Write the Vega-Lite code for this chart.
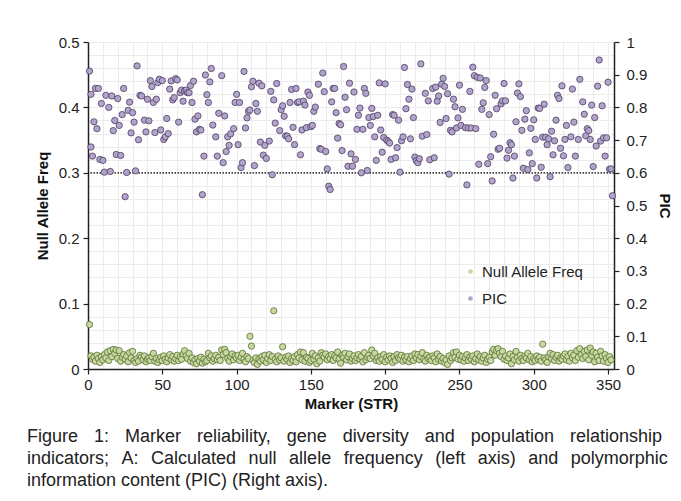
{
"$schema": "https://vega.github.io/schema/vega-lite/v6.json",
"width": 526,
"height": 327,
"autosize": {"type": "none"},
"padding": {"left": 88, "top": 42, "right": 67, "bottom": 132},
"background": "white",
"config": {"view": {"stroke": null}, "font": "Liberation Sans"},
"title": {
  "text": ["Figure \u00a0\u20041: \u00a0\u2004Marker \u00a0\u2004reliability, \u00a0\u2004gene \u00a0\u2004diversity \u00a0\u2004and \u00a0\u2004population \u00a0\u2004relationship", "indicators; \u2005\u2006A: \u2005\u2006Calculated \u2005\u2006null \u2005\u2006allele \u2005\u2006frequency \u2005\u2006(left \u2005\u2006axis) \u2005\u2006and \u2005\u2006polymorphic", "information content (PIC) (Right axis)."],
  "orient": "bottom", "anchor": "start", "frame": "group", "dx": -61, "offset": 17,
  "fontSize": 18, "fontWeight": "normal", "color": "#222222", "lineHeight": 22, "font": "Liberation Sans"
},
"datasets": {
"naf": [
{"m":1,"v":0.068},{"m":2,"v":0.020},{"m":3,"v":0.015},{"m":4,"v":0.018},{"m":5,"v":0.012},{"m":6,"v":0.021},{"m":7,"v":0.016},{"m":8,"v":0.010},{"m":9,"v":0.019},{"m":10,"v":0.014},
{"m":11,"v":0.022},{"m":12,"v":0.017},{"m":13,"v":0.026},{"m":14,"v":0.013},{"m":15,"v":0.028},{"m":16,"v":0.019},{"m":17,"v":0.030},{"m":18,"v":0.024},{"m":19,"v":0.029},{"m":20,"v":0.016},
{"m":21,"v":0.028},{"m":22,"v":0.012},{"m":23,"v":0.018},{"m":24,"v":0.022},{"m":25,"v":0.015},{"m":26,"v":0.020},{"m":27,"v":0.011},{"m":28,"v":0.025},{"m":29,"v":0.017},{"m":30,"v":0.027},
{"m":31,"v":0.013},{"m":32,"v":0.010},{"m":33,"v":0.016},{"m":34,"v":0.012},{"m":35,"v":0.021},{"m":36,"v":0.018},{"m":37,"v":0.014},{"m":38,"v":0.020},{"m":39,"v":0.011},{"m":40,"v":0.015},
{"m":41,"v":0.017},{"m":42,"v":0.013},{"m":43,"v":0.019},{"m":44,"v":0.024},{"m":45,"v":0.012},{"m":46,"v":0.016},{"m":47,"v":0.010},{"m":48,"v":0.014},{"m":49,"v":0.018},{"m":50,"v":0.013},
{"m":51,"v":0.020},{"m":52,"v":0.015},{"m":53,"v":0.011},{"m":54,"v":0.017},{"m":55,"v":0.022},{"m":56,"v":0.014},{"m":57,"v":0.019},{"m":58,"v":0.012},{"m":59,"v":0.016},{"m":60,"v":0.021},
{"m":61,"v":0.013},{"m":62,"v":0.018},{"m":63,"v":0.015},{"m":64,"v":0.023},{"m":65,"v":0.028},{"m":66,"v":0.020},{"m":67,"v":0.016},{"m":68,"v":0.024},{"m":69,"v":0.012},{"m":70,"v":0.017},
{"m":71,"v":0.010},{"m":72,"v":0.014},{"m":73,"v":0.008},{"m":74,"v":0.016},{"m":75,"v":0.012},{"m":76,"v":0.018},{"m":77,"v":0.009},{"m":78,"v":0.015},{"m":79,"v":0.011},{"m":80,"v":0.013},
{"m":81,"v":0.024},{"m":82,"v":0.017},{"m":83,"v":0.020},{"m":84,"v":0.012},{"m":85,"v":0.016},{"m":86,"v":0.021},{"m":87,"v":0.014},{"m":88,"v":0.018},{"m":89,"v":0.013},{"m":90,"v":0.029},
{"m":91,"v":0.022},{"m":92,"v":0.030},{"m":93,"v":0.025},{"m":94,"v":0.016},{"m":95,"v":0.012},{"m":96,"v":0.019},{"m":97,"v":0.023},{"m":98,"v":0.014},{"m":99,"v":0.020},{"m":100,"v":0.017},
{"m":101,"v":0.021},{"m":102,"v":0.013},{"m":103,"v":0.018},{"m":104,"v":0.024},{"m":105,"v":0.015},{"m":106,"v":0.011},{"m":107,"v":0.019},{"m":108,"v":0.016},{"m":109,"v":0.050},{"m":110,"v":0.035},
{"m":111,"v":0.013},{"m":112,"v":0.010},{"m":113,"v":0.017},{"m":114,"v":0.007},{"m":115,"v":0.015},{"m":116,"v":0.012},{"m":117,"v":0.019},{"m":118,"v":0.014},{"m":119,"v":0.021},{"m":120,"v":0.010},
{"m":121,"v":0.016},{"m":122,"v":0.022},{"m":123,"v":0.013},{"m":124,"v":0.019},{"m":125,"v":0.089},{"m":126,"v":0.015},{"m":127,"v":0.011},{"m":128,"v":0.020},{"m":129,"v":0.014},{"m":130,"v":0.017},
{"m":131,"v":0.034},{"m":132,"v":0.012},{"m":133,"v":0.018},{"m":134,"v":0.015},{"m":135,"v":0.020},{"m":136,"v":0.010},{"m":137,"v":0.016},{"m":138,"v":0.013},{"m":139,"v":0.019},{"m":140,"v":0.011},
{"m":141,"v":0.022},{"m":142,"v":0.017},{"m":143,"v":0.026},{"m":144,"v":0.014},{"m":145,"v":0.025},{"m":146,"v":0.012},{"m":147,"v":0.018},{"m":148,"v":0.016},{"m":149,"v":0.010},{"m":150,"v":0.013},
{"m":151,"v":0.024},{"m":152,"v":0.015},{"m":153,"v":0.020},{"m":154,"v":0.008},{"m":155,"v":0.017},{"m":156,"v":0.012},{"m":157,"v":0.025},{"m":158,"v":0.021},{"m":159,"v":0.018},{"m":160,"v":0.023},
{"m":161,"v":0.014},{"m":162,"v":0.019},{"m":163,"v":0.016},{"m":164,"v":0.022},{"m":165,"v":0.013},{"m":166,"v":0.020},{"m":167,"v":0.017},{"m":168,"v":0.026},{"m":169,"v":0.015},{"m":170,"v":0.009},
{"m":171,"v":0.021},{"m":172,"v":0.018},{"m":173,"v":0.024},{"m":174,"v":0.014},{"m":175,"v":0.019},{"m":176,"v":0.023},{"m":177,"v":0.012},{"m":178,"v":0.016},{"m":179,"v":0.020},{"m":180,"v":0.013},
{"m":181,"v":0.017},{"m":182,"v":0.022},{"m":183,"v":0.015},{"m":184,"v":0.019},{"m":185,"v":0.011},{"m":186,"v":0.025},{"m":187,"v":0.014},{"m":188,"v":0.018},{"m":189,"v":0.021},{"m":190,"v":0.016},
{"m":191,"v":0.029},{"m":192,"v":0.020},{"m":193,"v":0.024},{"m":194,"v":0.013},{"m":195,"v":0.017},{"m":196,"v":0.012},{"m":197,"v":0.019},{"m":198,"v":0.015},{"m":199,"v":0.022},{"m":200,"v":0.011},
{"m":201,"v":0.018},{"m":202,"v":0.014},{"m":203,"v":0.020},{"m":204,"v":0.016},{"m":205,"v":0.010},{"m":206,"v":0.019},{"m":207,"v":0.013},{"m":208,"v":0.022},{"m":209,"v":0.017},{"m":210,"v":0.015},
{"m":211,"v":0.021},{"m":212,"v":0.012},{"m":213,"v":0.018},{"m":214,"v":0.014},{"m":215,"v":0.019},{"m":216,"v":0.011},{"m":217,"v":0.016},{"m":218,"v":0.020},{"m":219,"v":0.013},{"m":220,"v":0.023},
{"m":221,"v":0.017},{"m":222,"v":0.022},{"m":223,"v":0.014},{"m":224,"v":0.019},{"m":225,"v":0.025},{"m":226,"v":0.015},{"m":227,"v":0.012},{"m":228,"v":0.021},{"m":229,"v":0.016},{"m":230,"v":0.018},
{"m":231,"v":0.013},{"m":232,"v":0.020},{"m":233,"v":0.017},{"m":234,"v":0.011},{"m":235,"v":0.023},{"m":236,"v":0.015},{"m":237,"v":0.019},{"m":238,"v":0.012},{"m":239,"v":0.016},{"m":240,"v":0.010},
{"m":241,"v":0.014},{"m":242,"v":0.007},{"m":243,"v":0.020},{"m":244,"v":0.013},{"m":245,"v":0.017},{"m":246,"v":0.025},{"m":247,"v":0.018},{"m":248,"v":0.026},{"m":249,"v":0.015},{"m":250,"v":0.021},
{"m":251,"v":0.014},{"m":252,"v":0.019},{"m":253,"v":0.012},{"m":254,"v":0.017},{"m":255,"v":0.022},{"m":256,"v":0.013},{"m":257,"v":0.018},{"m":258,"v":0.015},{"m":259,"v":0.020},{"m":260,"v":0.011},
{"m":261,"v":0.016},{"m":262,"v":0.023},{"m":263,"v":0.014},{"m":264,"v":0.019},{"m":265,"v":0.012},{"m":266,"v":0.017},{"m":267,"v":0.021},{"m":268,"v":0.010},{"m":269,"v":0.015},{"m":270,"v":0.018},
{"m":271,"v":0.013},{"m":272,"v":0.026},{"m":273,"v":0.030},{"m":274,"v":0.021},{"m":275,"v":0.028},{"m":276,"v":0.031},{"m":277,"v":0.024},{"m":278,"v":0.019},{"m":279,"v":0.027},{"m":280,"v":0.015},
{"m":281,"v":0.020},{"m":282,"v":0.013},{"m":283,"v":0.017},{"m":284,"v":0.023},{"m":285,"v":0.008},{"m":286,"v":0.019},{"m":287,"v":0.014},{"m":288,"v":0.027},{"m":289,"v":0.018},{"m":290,"v":0.012},
{"m":291,"v":0.021},{"m":292,"v":0.016},{"m":293,"v":0.013},{"m":294,"v":0.020},{"m":295,"v":0.017},{"m":296,"v":0.024},{"m":297,"v":0.014},{"m":298,"v":0.019},{"m":299,"v":0.011},{"m":300,"v":0.016},
{"m":301,"v":0.013},{"m":302,"v":0.020},{"m":303,"v":0.015},{"m":304,"v":0.018},{"m":305,"v":0.012},{"m":306,"v":0.038},{"m":307,"v":0.017},{"m":308,"v":0.014},{"m":309,"v":0.010},{"m":310,"v":0.019},
{"m":311,"v":0.024},{"m":312,"v":0.016},{"m":313,"v":0.022},{"m":314,"v":0.013},{"m":315,"v":0.018},{"m":316,"v":0.021},{"m":317,"v":0.012},{"m":318,"v":0.017},{"m":319,"v":0.015},{"m":320,"v":0.020},
{"m":321,"v":0.023},{"m":322,"v":0.014},{"m":323,"v":0.019},{"m":324,"v":0.012},{"m":325,"v":0.024},{"m":326,"v":0.017},{"m":327,"v":0.021},{"m":328,"v":0.013},{"m":329,"v":0.028},{"m":330,"v":0.018},
{"m":331,"v":0.031},{"m":332,"v":0.022},{"m":333,"v":0.016},{"m":334,"v":0.027},{"m":335,"v":0.019},{"m":336,"v":0.029},{"m":337,"v":0.014},{"m":338,"v":0.032},{"m":339,"v":0.021},{"m":340,"v":0.026},
{"m":341,"v":0.011},{"m":342,"v":0.024},{"m":343,"v":0.018},{"m":344,"v":0.013},{"m":345,"v":0.027},{"m":346,"v":0.020},{"m":347,"v":0.012},{"m":348,"v":0.022},{"m":349,"v":0.016},{"m":350,"v":0.010},
{"m":351,"v":0.019},{"m":352,"v":0.014}
],
"pic": [
{"m":1,"v":0.911},{"m":2,"v":0.679},{"m":2,"v":0.840},{"m":3,"v":0.651},{"m":4,"v":0.756},{"m":5,"v":0.858},{"m":6,"v":0.735},{"m":7,"v":0.858},{"m":8,"v":0.641},{"m":9,"v":0.812},
{"m":10,"v":0.638},{"m":11,"v":0.602},{"m":12,"v":0.837},{"m":14,"v":0.800},{"m":15,"v":0.604},{"m":16,"v":0.835},{"m":17,"v":0.729},{"m":18,"v":0.760},{"m":19,"v":0.656},{"m":20,"v":0.827},
{"m":21,"v":0.745},{"m":22,"v":0.653},{"m":23,"v":0.778},{"m":24,"v":0.858},{"m":25,"v":0.527},{"m":26,"v":0.601},{"m":27,"v":0.791},{"m":28,"v":0.816},{"m":29,"v":0.722},{"m":30,"v":0.784},
{"m":31,"v":0.755},{"m":32,"v":0.606},{"m":33,"v":0.927},{"m":34,"v":0.701},{"m":35,"v":0.837},{"m":36,"v":0.835},{"m":38,"v":0.761},{"m":39,"v":0.725},{"m":40,"v":0.825},{"m":41,"v":0.759},
{"m":42,"v":0.882},{"m":43,"v":0.864},{"m":44,"v":0.815},{"m":45,"v":0.723},{"m":46,"v":0.825},{"m":47,"v":0.876},{"m":48,"v":0.886},{"m":49,"v":0.731},{"m":50,"v":0.882},{"m":51,"v":0.702},
{"m":52,"v":0.710},{"m":53,"v":0.766},{"m":54,"v":0.720},{"m":55,"v":0.856},{"m":56,"v":0.881},{"m":57,"v":0.823},{"m":58,"v":0.830},{"m":59,"v":0.888},{"m":60,"v":0.884},{"m":61,"v":0.755},
{"m":62,"v":0.845},{"m":63,"v":0.853},{"m":64,"v":0.819},{"m":65,"v":0.850},{"m":66,"v":0.853},{"m":67,"v":0.845},{"m":68,"v":0.845},{"m":69,"v":0.867},{"m":70,"v":0.815},{"m":71,"v":0.880},
{"m":72,"v":0.764},{"m":73,"v":0.725},{"m":74,"v":0.774},{"m":75,"v":0.733},{"m":76,"v":0.731},{"m":77,"v":0.533},{"m":78,"v":0.651},{"m":79,"v":0.899},{"m":80,"v":0.839},{"m":81,"v":0.815},
{"m":82,"v":0.878},{"m":83,"v":0.919},{"m":84,"v":0.746},{"m":86,"v":0.710},{"m":87,"v":0.651},{"m":88,"v":0.782},{"m":90,"v":0.897},{"m":91,"v":0.631},{"m":92,"v":0.774},{"m":93,"v":0.665},
{"m":94,"v":0.710},{"m":95,"v":0.684},{"m":96,"v":0.719},{"m":98,"v":0.735},{"m":99,"v":0.815},{"m":100,"v":0.840},{"m":101,"v":0.686},{"m":102,"v":0.815},{"m":103,"v":0.616},{"m":104,"v":0.631},
{"m":105,"v":0.910},{"m":106,"v":0.737},{"m":107,"v":0.768},{"m":108,"v":0.788},{"m":109,"v":0.792},{"m":110,"v":0.863},{"m":111,"v":0.880},{"m":112,"v":0.622},{"m":113,"v":0.812},{"m":114,"v":0.788},
{"m":115,"v":0.874},{"m":116,"v":0.694},{"m":117,"v":0.866},{"m":118,"v":0.654},{"m":119,"v":0.684},{"m":120,"v":0.644},{"m":122,"v":0.697},{"m":123,"v":0.849},{"m":124,"v":0.594},{"m":125,"v":0.823},
{"m":126,"v":0.752},{"m":127,"v":0.873},{"m":129,"v":0.729},{"m":130,"v":0.793},{"m":131,"v":0.805},{"m":132,"v":0.773},{"m":133,"v":0.713},{"m":134,"v":0.712},{"m":135,"v":0.704},{"m":136,"v":0.815},
{"m":137,"v":0.855},{"m":138,"v":0.739},{"m":139,"v":0.686},{"m":140,"v":0.858},{"m":141,"v":0.815},{"m":142,"v":0.817},{"m":143,"v":0.655},{"m":144,"v":0.731},{"m":145,"v":0.819},{"m":146,"v":0.807},
{"m":147,"v":0.738},{"m":148,"v":0.847},{"m":149,"v":0.837},{"m":150,"v":0.741},{"m":151,"v":0.745},{"m":152,"v":0.788},{"m":153,"v":0.801},{"m":155,"v":0.871},{"m":156,"v":0.674},{"m":157,"v":0.672},
{"m":158,"v":0.905},{"m":159,"v":0.848},{"m":160,"v":0.665},{"m":161,"v":0.612},{"m":162,"v":0.559},{"m":163,"v":0.549},{"m":164,"v":0.817},{"m":165,"v":0.858},{"m":166,"v":0.858},{"m":167,"v":0.784},
{"m":168,"v":0.706},{"m":169,"v":0.751},{"m":170,"v":0.747},{"m":171,"v":0.668},{"m":172,"v":0.925},{"m":173,"v":0.831},{"m":174,"v":0.793},{"m":175,"v":0.620},{"m":176,"v":0.874},{"m":177,"v":0.658},
{"m":178,"v":0.620},{"m":179,"v":0.847},{"m":180,"v":0.641},{"m":181,"v":0.733},{"m":182,"v":0.776},{"m":183,"v":0.798},{"m":184,"v":0.600},{"m":185,"v":0.733},{"m":186,"v":0.858},{"m":187,"v":0.843},
{"m":188,"v":0.607},{"m":189,"v":0.769},{"m":190,"v":0.745},{"m":191,"v":0.797},{"m":192,"v":0.772},{"m":193,"v":0.710},{"m":194,"v":0.638},{"m":195,"v":0.776},{"m":196,"v":0.875},{"m":197,"v":0.731},
{"m":198,"v":0.663},{"m":199,"v":0.708},{"m":200,"v":0.872},{"m":201,"v":0.700},{"m":202,"v":0.696},{"m":203,"v":0.691},{"m":204,"v":0.641},{"m":205,"v":0.778},{"m":206,"v":0.776},{"m":207,"v":0.646},
{"m":208,"v":0.677},{"m":209,"v":0.761},{"m":210,"v":0.602},{"m":211,"v":0.698},{"m":212,"v":0.710},{"m":213,"v":0.922},{"m":214,"v":0.796},{"m":215,"v":0.870},{"m":216,"v":0.825},{"m":217,"v":0.704},
{"m":218,"v":0.856},{"m":219,"v":0.769},{"m":220,"v":0.648},{"m":221,"v":0.637},{"m":222,"v":0.631},{"m":223,"v":0.643},{"m":224,"v":0.933},{"m":225,"v":0.712},{"m":227,"v":0.843},{"m":228,"v":0.717},
{"m":229,"v":0.820},{"m":230,"v":0.640},{"m":232,"v":0.858},{"m":233,"v":0.646},{"m":234,"v":0.862},{"m":235,"v":0.819},{"m":236,"v":0.835},{"m":237,"v":0.754},{"m":238,"v":0.871},{"m":239,"v":0.889},
{"m":240,"v":0.864},{"m":241,"v":0.766},{"m":242,"v":0.842},{"m":243,"v":0.596},{"m":244,"v":0.730},{"m":245,"v":0.725},{"m":246,"v":0.825},{"m":247,"v":0.802},{"m":248,"v":0.737},{"m":249,"v":0.768},
{"m":250,"v":0.868},{"m":251,"v":0.745},{"m":252,"v":0.794},{"m":254,"v":0.738},{"m":255,"v":0.563},{"m":256,"v":0.737},{"m":257,"v":0.849},{"m":258,"v":0.737},{"m":259,"v":0.923},{"m":260,"v":0.897},
{"m":261,"v":0.735},{"m":262,"v":0.892},{"m":263,"v":0.626},{"m":264,"v":0.890},{"m":265,"v":0.794},{"m":266,"v":0.814},{"m":267,"v":0.861},{"m":268,"v":0.882},{"m":269,"v":0.628},{"m":270,"v":0.778},
{"m":271,"v":0.649},{"m":272,"v":0.575},{"m":273,"v":0.718},{"m":274,"v":0.837},{"m":275,"v":0.796},{"m":276,"v":0.672},{"m":277,"v":0.675},{"m":278,"v":0.811},{"m":279,"v":0.820},{"m":280,"v":0.873},
{"m":281,"v":0.820},{"m":282,"v":0.645},{"m":283,"v":0.669},{"m":284,"v":0.692},{"m":285,"v":0.686},{"m":286,"v":0.584},{"m":287,"v":0.651},{"m":288,"v":0.756},{"m":289,"v":0.844},{"m":290,"v":0.872},
{"m":291,"v":0.833},{"m":292,"v":0.730},{"m":293,"v":0.614},{"m":294,"v":0.764},{"m":295,"v":0.790},{"m":296,"v":0.610},{"m":297,"v":0.661},{"m":298,"v":0.736},{"m":299,"v":0.628},{"m":300,"v":0.762},
{"m":301,"v":0.702},{"m":302,"v":0.584},{"m":303,"v":0.798},{"m":304,"v":0.797},{"m":305,"v":0.617},{"m":306,"v":0.709},{"m":307,"v":0.810},{"m":308,"v":0.709},{"m":309,"v":0.686},{"m":310,"v":0.704},
{"m":311,"v":0.588},{"m":312,"v":0.727},{"m":313,"v":0.655},{"m":314,"v":0.698},{"m":315,"v":0.761},{"m":316,"v":0.837},{"m":317,"v":0.827},{"m":318,"v":0.675},{"m":319,"v":0.866},{"m":320,"v":0.652},
{"m":321,"v":0.702},{"m":322,"v":0.745},{"m":323,"v":0.616},{"m":325,"v":0.710},{"m":326,"v":0.856},{"m":327,"v":0.755},{"m":328,"v":0.651},{"m":330,"v":0.702},{"m":331,"v":0.886},{"m":333,"v":0.817},
{"m":334,"v":0.779},{"m":335,"v":0.713},{"m":336,"v":0.735},{"m":337,"v":0.729},{"m":338,"v":0.702},{"m":339,"v":0.807},{"m":340,"v":0.619},{"m":341,"v":0.769},{"m":342,"v":0.682},{"m":343,"v":0.865},
{"m":344,"v":0.945},{"m":345,"v":0.697},{"m":346,"v":0.805},{"m":347,"v":0.707},{"m":348,"v":0.651},{"m":349,"v":0.707},{"m":350,"v":0.877},{"m":351,"v":0.611},{"m":352,"v":0.612},{"m":353,"v":0.530}
]
},
"layer": [
  {
    "data": {"values": [{}]},
    "mark": {"type": "rule", "color": "#000000", "strokeDash": [1.5, 1.5], "strokeWidth": 1.2},
    "encoding": {
      "y": {"datum": 0.3, "type": "quantitative", "scale": {"domain": [0, 0.5], "nice": false},
        "axis": {"orient": "left", "values": [0,0.02,0.04,0.06,0.08,0.1,0.12,0.14,0.16,0.18,0.2,0.22,0.24,0.26,0.28,0.3,0.32,0.34,0.36,0.38,0.4,0.42,0.44,0.46,0.48,0.5],
          "grid": true, "gridColor": "#ececec", "gridWidth": 1, "labels": false, "ticks": false, "domain": false, "title": null}}
    }
  },
  {
    "data": {"name": "naf"},
    "mark": {"type": "circle", "size": 40, "opacity": 1, "stroke": "#5b6e33", "strokeWidth": 0.8},
    "encoding": {
      "x": {"field": "m", "type": "quantitative", "scale": {"domain": [0, 354], "nice": false},
        "axis": {"orient": "bottom", "values": [0,50,100,150,200,250,300,350], "format": "d", "labelFlush": false, "grid": false,
          "title": "Marker (STR)", "titleFontSize": 15, "titleFontWeight": "bold", "titleColor": "#111111", "titlePadding": 4,
          "labelFontSize": 15, "labelColor": "#222222", "labelPadding": 3, "domainColor": "#222222", "domainWidth": 1.5,
          "tickColor": "#222222", "tickSize": 5, "tickWidth": 1.2}},
      "y": {"field": "v", "type": "quantitative", "scale": {"domain": [0, 0.5], "nice": false},
        "axis": {"orient": "left", "values": [0,0.1,0.2,0.3,0.4,0.5], "format": "~g", "grid": false,
          "title": "Null Allele Freq", "titleFontSize": 15, "titleFontWeight": "bold", "titleColor": "#111111", "titlePadding": 8,
          "labelFontSize": 15, "labelColor": "#222222", "labelPadding": 4, "domainColor": "#222222", "domainWidth": 1.5,
          "tickColor": "#222222", "tickSize": 5, "tickWidth": 1.2}},
      "color": {"datum": "Null Allele Freq", "type": "nominal",
        "scale": {"domain": ["Null Allele Freq", "PIC"], "range": ["#c6d9a0", "#b1a3c9"]},
        "legend": {"orient": "none", "legendX": 375, "legendY": 222, "title": null, "symbolType": "circle", "symbolSize": 22,
          "symbolStrokeWidth": 0, "labelFontSize": 15, "labelColor": "#222222", "rowPadding": 11, "labelOffset": 4, "padding": 0}}
    }
  },
  {
    "data": {"name": "pic"},
    "mark": {"type": "circle", "size": 40, "opacity": 1, "stroke": "#4b3d63", "strokeWidth": 0.8},
    "encoding": {
      "x": {"field": "m", "type": "quantitative", "scale": {"domain": [0, 354], "nice": false},
        "axis": {"orient": "top", "values": [0,10,20,30,40,50,60,70,80,90,100,110,120,130,140,150,160,170,180,190,200,210,220,230,240,250,260,270,280,290,300,310,320,330,340,350],
          "grid": true, "gridColor": "#ececec", "gridWidth": 1, "labels": false, "ticks": false, "domain": false, "title": null}},
      "y": {"field": "v", "type": "quantitative", "scale": {"domain": [0, 1], "nice": false},
        "axis": {"orient": "right", "values": [0,0.1,0.2,0.3,0.4,0.5,0.6,0.7,0.8,0.9,1], "format": "~g", "grid": false,
          "title": "PIC", "titleFontSize": 15, "titleFontWeight": "bold", "titleColor": "#111111", "titlePadding": 10,
          "labelFontSize": 15, "labelColor": "#222222", "labelPadding": 7, "domainColor": "#222222", "domainWidth": 1.5,
          "tickColor": "#222222", "tickSize": 5, "tickWidth": 1.2}},
      "color": {"datum": "PIC", "type": "nominal",
        "scale": {"domain": ["Null Allele Freq", "PIC"], "range": ["#c6d9a0", "#b1a3c9"]},
        "legend": {"orient": "none", "legendX": 375, "legendY": 222, "title": null, "symbolType": "circle", "symbolSize": 22,
          "symbolStrokeWidth": 0, "labelFontSize": 15, "labelColor": "#222222", "rowPadding": 11, "labelOffset": 4, "padding": 0}}
    }
  }
],
"resolve": {"scale": {"y": "independent"}, "axis": {"x": "independent", "y": "independent"}}
}
